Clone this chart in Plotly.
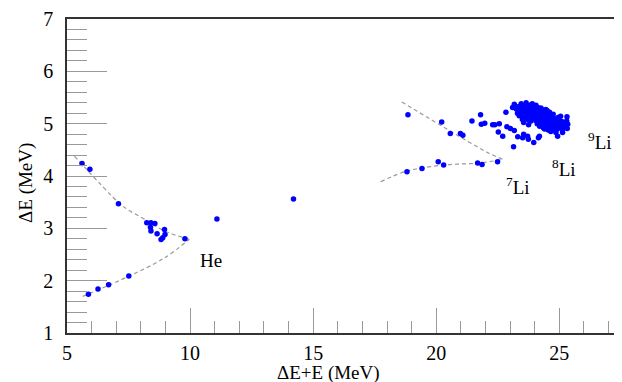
import plotly.graph_objects as go

# ---- data ----
he_x = [5.61, 5.93, 7.09, 8.24, 8.41, 8.57, 8.39, 8.41, 8.66, 8.96, 8.98, 8.89, 8.82, 9.79,
        5.87, 6.26, 6.69, 7.51, 11.09, 14.2]
he_y = [4.24, 4.13, 3.47, 3.105, 3.105, 3.09, 3.02, 2.95, 2.895, 2.98, 2.88, 2.82, 2.785, 2.80,
        1.74, 1.84, 1.92, 2.09, 3.18, 3.56]

li_x = [18.85, 20.22, 20.57, 20.98, 21.08, 21.45, 21.80, 21.83, 21.97,
        18.81, 19.42, 20.08, 20.30, 21.68, 21.86, 22.49,
        22.29, 22.38, 22.56, 22.52, 22.70, 22.83, 22.87, 23.01, 23.17, 23.10, 23.17,
        23.31, 23.51, 23.55, 23.71, 23.74, 23.96, 24.15, 24.19, 23.14, 23.37, 23.44,
        23.31, 23.74, 24.12, 24.86, 24.93, 25.13, 25.31, 25.34, 25.27]
li_y = [5.17, 5.03, 4.81, 4.81, 4.78, 5.05, 5.17, 4.99, 5.01,
        4.08, 4.145, 4.27, 4.21, 4.25, 4.22, 4.27,
        4.98, 4.98, 5.00, 4.84, 4.76, 5.22, 4.94, 4.91, 4.87, 5.31, 5.37,
        4.75, 4.73, 4.80, 4.76, 4.70, 4.64, 4.73, 4.76, 4.56, 5.15, 5.21,
        5.31, 5.34, 5.31, 4.83, 4.76, 4.83, 5.13, 4.99, 4.92]

core_x = [23.25, 23.30, 23.35, 23.40, 23.45, 23.50, 23.55, 23.60, 23.60, 23.65, 23.70, 23.72,
          23.75, 23.80, 23.82, 23.85, 23.90, 23.92, 23.95, 24.00, 24.00, 24.02, 24.05, 24.08,
          24.10, 24.12, 24.15, 24.18, 24.20, 24.22, 24.25, 24.28, 24.30, 24.32, 24.35, 24.38,
          24.40, 24.42, 24.45, 24.48, 24.50, 24.52, 24.55, 24.58, 24.60, 24.62, 24.65, 24.68,
          24.70, 24.72, 24.75, 24.78, 24.80, 24.82, 24.85, 24.88, 24.90, 24.92, 24.95, 24.98,
          25.00, 25.02, 25.05, 25.08, 25.10, 25.12, 25.15, 25.20, 25.22, 25.25, 25.30, 25.32,
          23.50, 23.65, 23.90, 24.25, 24.45, 24.60, 24.75, 24.10, 24.35, 24.55, 23.85, 24.05,
          24.30, 24.50, 24.95, 25.05, 24.20, 24.40, 24.65, 24.85, 23.45, 23.55, 23.75]
core_y = [5.28, 5.20, 5.33, 5.25, 5.17, 5.30, 5.22, 5.12, 5.35, 5.27, 5.18, 5.08,
          5.31, 5.23, 5.14, 5.05, 5.28, 5.19, 5.10, 5.32, 5.24, 5.15, 5.06, 5.20,
          5.28, 5.11, 5.02, 5.17, 5.25, 5.08, 5.13, 5.21, 5.04, 4.98, 5.16, 5.09,
          5.23, 5.01, 5.12, 5.06, 5.18, 4.96, 5.10, 5.02, 5.15, 4.94, 5.07, 4.99,
          5.12, 5.04, 4.92, 5.09, 5.00, 4.95, 5.06, 4.98, 5.10, 4.90, 5.02, 4.96,
          5.06, 4.93, 5.00, 4.95, 5.04, 4.89, 4.98, 5.02, 4.93, 4.97, 5.05, 4.91,
          5.08, 5.40, 5.38, 5.30, 5.27, 5.22, 5.18, 5.00, 4.92, 4.88, 5.36, 5.35,
          5.27, 5.25, 5.12, 5.14, 4.95, 4.90, 4.85, 4.88, 5.38, 5.02, 4.98]

# guide curves (dashed)
he_up_x = [5.30, 7.10, 7.46, 8.28, 8.96, 9.97]
he_up_y = [4.38, 3.49, 3.36, 3.14, 2.95, 2.79]
he_lo_x = [5.64, 7.51, 8.96, 9.97]
he_lo_y = [1.70, 2.085, 2.435, 2.79]
li_up_x = [18.60, 22.10, 22.70]
li_up_y = [5.415, 4.445, 4.32]
li_lo_x = [17.74, 18.81, 20.33, 21.82, 22.70]
li_lo_y = [3.89, 4.095, 4.21, 4.25, 4.32]

labels = ["He", "<sup>7</sup>Li", "<sup>8</sup>Li", "<sup>9</sup>Li"]
label_x = [10.85, 23.31, 25.20, 26.65]
label_y = [2.38, 3.81, 4.16, 4.67]

x_title = "ΔE+E (MeV)"
y_title = "ΔE (MeV)"

FONT = "Liberation Serif, Times New Roman, serif"
BLUE = "#0000ff"
GUIDE = "#999999"

fig = go.Figure()
for gx, gy in [(he_up_x, he_up_y), (he_lo_x, he_lo_y), (li_up_x, li_up_y), (li_lo_x, li_lo_y)]:
    fig.add_trace(go.Scatter(x=gx, y=gy, mode="lines",
                             line=dict(color=GUIDE, width=1.2, dash="4px,3px", shape="spline"),
                             hoverinfo="skip", showlegend=False))

for sx, sy in [(he_x, he_y), (li_x, li_y), (core_x, core_y)]:
    fig.add_trace(go.Scatter(x=sx, y=sy, mode="markers",
                             marker=dict(color=BLUE, size=5.5, line=dict(width=0)),
                             showlegend=False))

for t, lx, ly in zip(labels, label_x, label_y):
    fig.add_annotation(x=lx, y=ly, text=t, showarrow=False,
                       xanchor="center", yanchor="middle",
                       font=dict(family=FONT, size=19, color="black"))

fig.add_annotation(xref="paper", yref="paper", x=0.464, y=-0.128, text=x_title,
                   xanchor="center", yanchor="middle",
                   showarrow=False, font=dict(family=FONT, size=19, color="black"))
fig.add_annotation(xref="paper", yref="paper", x=-0.0728, y=0.478, text=y_title,
                   xanchor="center", yanchor="middle",
                   textangle=-90, showarrow=False,
                   font=dict(family=FONT, size=19, color="black"))

fig.update_layout(
    width=622, height=382,
    margin=dict(l=59, r=0, t=11, b=57),
    paper_bgcolor="white", plot_bgcolor="white",
    font=dict(family=FONT, size=19, color="black"),
    showlegend=False,
)
fig.update_xaxes(
    range=[5, 27.87], showgrid=False, zeroline=False,
    showline=True, linecolor="#333333", linewidth=1.5, mirror=True,
    tickmode="linear", tick0=5, dtick=5,
    ticks="inside", ticklen=25, tickcolor="#999999", tickwidth=1,
    minor=dict(tickmode="linear", tick0=5, dtick=1, ticks="inside", ticklen=12,
               tickcolor="#999999", tickwidth=1, showgrid=False),
    ticklabelstandoff=1,
    tickfont=dict(family=FONT, size=20, color="black"),
)
fig.update_yaxes(
    range=[1, 7], showgrid=False, zeroline=False,
    showline=True, linecolor="#333333", linewidth=1.5,
    tickmode="linear", tick0=1, dtick=1,
    ticks="inside", ticklen=40, tickcolor="#999999", tickwidth=1,
    minor=dict(tickmode="linear", tick0=1, dtick=0.2, ticks="inside", ticklen=20,
               tickcolor="#999999", tickwidth=1, showgrid=False),
    ticklabelstandoff=8,
    tickfont=dict(family=FONT, size=20, color="black"),
)

fig.write_html("out.html")
